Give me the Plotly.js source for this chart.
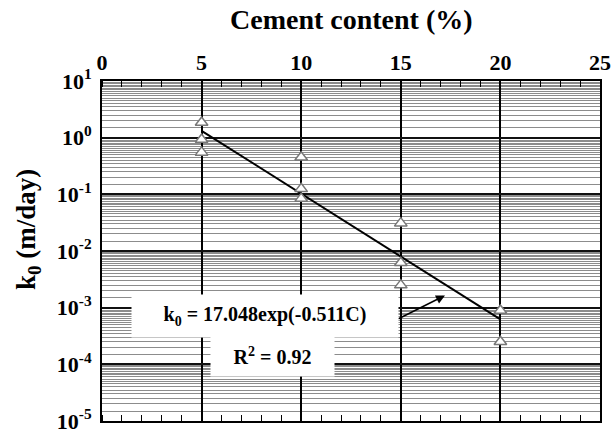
<!DOCTYPE html>
<html>
<head>
<meta charset="utf-8">
<script src="https://cdn.plot.ly/plotly-3.0.1.min.js"></script>
</head>
<body style="margin:0;background:#fff">
<div id="chart" style="width:613px;height:438px"></div>
<script>
const cementX = [5, 5, 5, 10, 10, 10, 15, 15, 15, 20, 20];
const k0Values = [1.85, 0.93, 0.55, 0.45, 0.125, 0.084, 0.031, 0.0062, 0.0025, 0.00089, 0.00025];
// Fitted line end points (k0 = 17.048 exp(-0.511C))
const fitX = [5, 20];
const fitY = [1.32, 0.00062];
// Tick labels
const xTickVals = [0, 5, 10, 15, 20, 25];
const xTickText = ['0', '5', '10', '15', '20', '25'];
const yTickVals = [10, 1, 0.1, 0.01, 0.001, 0.0001, 0.00001];
const yTickText = ['10<sup>1</sup>', '10<sup>0</sup>', '10<sup>-1</sup>', '10<sup>-2</sup>', '10<sup>-3</sup>', '10<sup>-4</sup>', '10<sup>-5</sup>'];
const xTitle = 'Cement content (%)';
const yTitle = 'k<sub>0</sub> (m/day)';
const eqText = 'k<sub>0</sub> = 17.048exp(-0.511C)';
const r2Text = 'R<sup>2</sup> = 0.92';

// dense minor gridlines for the log axis
const minorVals = [];
for (let e = -5; e < 1; e++) {
  for (let m = 1.5; m < 10; m += 0.5) {
    minorVals.push(m * Math.pow(10, e));
  }
}

const font = {family: '"Liberation Serif", "Times New Roman", serif', color: '#000', weight: 'bold'};
const f = (s) => Object.assign({}, font, {size: s});

const traces = [
  {
    x: fitX, y: fitY, type: 'scatter', mode: 'lines',
    line: {color: '#000', width: 2}, showlegend: false, hoverinfo: 'skip'
  },
  {
    x: cementX, y: k0Values, type: 'scatter', mode: 'markers',
    marker: {symbol: 'triangle-up', size: 11, color: '#fff', line: {color: '#777', width: 1.5}},
    showlegend: false
  }
];

const T = 81, B = 17, H = 438 - T - B;

const layout = {
  width: 613, height: 438,
  margin: {l: 102, r: 13, t: T, b: B},
  paper_bgcolor: '#fff', plot_bgcolor: '#fff',
  font: font,
  showlegend: false,
  xaxis: {
    range: [0, 25], side: 'top',
    tickvals: xTickVals, ticktext: xTickText,
    tickfont: f(22),
    ticks: '', ticklen: 0, ticklabeloverflow: 'allow',
    showgrid: true, gridcolor: '#000', gridwidth: 2,
    zeroline: false,
    showline: true, linecolor: '#000', linewidth: 2, mirror: 'allticks',
    minor: {dtick: 1, ticks: 'inside', ticklen: 6, tickcolor: '#000', tickwidth: 1, showgrid: false}
  },
  yaxis: {
    type: 'log', range: [-5, 1],
    tickvals: yTickVals, ticktext: yTickText,
    tickfont: f(22),
    ticks: '', ticklabelstandoff: 4, ticklabeloverflow: 'allow',
    showgrid: true, gridcolor: '#111', gridwidth: 2,
    zeroline: false,
    showline: true, linecolor: '#000', linewidth: 2, mirror: true,
    minor: {tickvals: minorVals, showgrid: true, gridcolor: '#8c8c8c', gridwidth: 1, ticks: ''}
  },
  annotations: [
    {
      x: 0.5, y: 1 + (T - 20) / H, xref: 'paper', yref: 'paper',
      xanchor: 'center', yanchor: 'middle', text: xTitle, showarrow: false, font: f(28)
    },
    {
      x: (28 - 102) / 498, y: 1 - (230 - T) / H, xref: 'paper', yref: 'paper',
      xanchor: 'center', yanchor: 'middle', textangle: -90, text: yTitle, showarrow: false, font: f(27)
    },
    {
      x: 17.22, y: -2.785, xref: 'x', yref: 'y', text: '',
      showarrow: true, arrowhead: 2, arrowsize: 1.2, arrowwidth: 1.5, arrowcolor: '#000',
      ax: -48, ay: 24
    },
    {
      x: 8.18, y: -3.15, xref: 'x', yref: 'y', text: eqText, showarrow: false,
      font: f(20),
      bgcolor: '#fff', width: 262, height: 38, borderpad: 2
    },
    {
      x: 8.55, y: -3.85, xref: 'x', yref: 'y', text: r2Text, showarrow: false,
      font: f(20),
      bgcolor: '#fff', width: 119, height: 36, borderpad: 2
    }
  ]
};

Plotly.newPlot('chart', traces, layout, {displayModeBar: false, staticPlot: true});
</script>
</body>
</html>
